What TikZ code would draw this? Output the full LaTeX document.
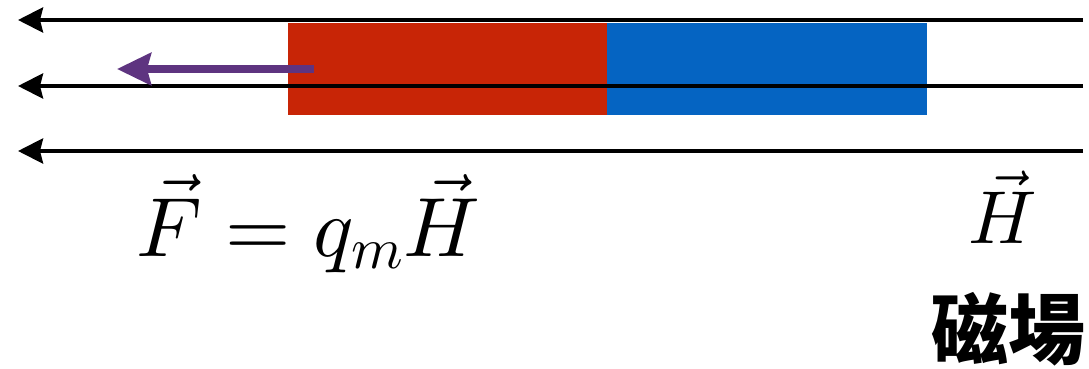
\documentclass[tikz,border=0pt]{standalone}
\usepackage{fontspec}
\newfontfamily\cjk{Noto Sans CJK TC}
\DeclareFontShape{OML}{cmm}{m}{it}{<->cmmi10}{}
\DeclareFontShape{OMS}{cmsy}{m}{n}{<->cmsy10}{}
\DeclareFontShape{OT1}{cmr}{m}{n}{<->cmr10}{}
\DeclareFontShape{OMX}{cmex}{m}{n}{<->cmex10}{}
\usetikzlibrary{arrows.meta}
\definecolor{magred}{HTML}{C82506}
\definecolor{magblue}{HTML}{0564C2}
\definecolor{forcepurple}{HTML}{5E3480}
\tikzset{
  fieldline/.style={line width=4pt, -{Stealth[length=25pt,width=25pt,inset=3pt]}},
  forcearrow/.style={forcepurple, line width=7pt, -{Stealth[length=34pt,width=32pt,inset=4pt]}},
}
\begin{document}
\begin{tikzpicture}[x=1pt,y=-1pt]
\useasboundingbox (0,0) rectangle (1089,369);
% magnet
\fill[magred] (288,23) rectangle (607,115);
\fill[magblue] (607,23) rectangle (927,115);
% field lines
\foreach \i/\y in {1/20,2/86,3/151}{
  \coordinate (r\i) at (1083,\y);
  \coordinate (l\i) at (18,\y);
  \draw[fieldline] (r\i) -- (l\i);
}
% force
\coordinate (fs) at (314,69);
\coordinate (fe) at (117,69);
\draw[forcearrow] (fs) -- (fe);
% labels
\node[anchor=base west, inner sep=0pt, font=\fontsize{84}{100}\selectfont] (eq) at (136,256) {$\vec{F}=q_m\vec{H}$};
\node[anchor=base west, inner sep=0pt, font=\fontsize{75}{90}\selectfont] (hl) at (968,243) {$\vec{H}$};
\node[anchor=base east, inner sep=0pt, font=\cjk\bfseries\fontsize{77}{90}\selectfont] (cj) at (1086,358) {磁場};
\end{tikzpicture}
\end{document}
